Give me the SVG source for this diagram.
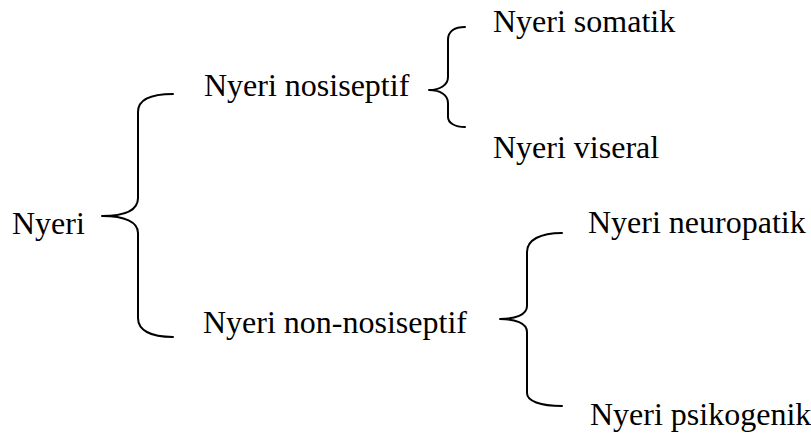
<svg xmlns="http://www.w3.org/2000/svg" width="811" height="443" viewBox="0 0 811 443">
  <style>
    text { font-family: 'Liberation Serif', 'Times New Roman', Times, 'DejaVu Serif', serif; font-size: 32px; fill: #000; }
    .brace { fill: none; stroke: #000; stroke-width: 2; stroke-linecap: round; stroke-linejoin: round; }
  </style>
  <rect width="811" height="443" fill="#fff"/>

  <!-- curly braces linking parent to children -->
  <g id="connectors">
    <path class="brace" d="M 173 94 C 150 94 138 100 138 112 V 198 C 138 210 125 216 102 216 C 125 216 138 222 138 233 V 318 C 138 330 150 337 173 337"/>
    <path class="brace" d="M 465 27 C 455 27 448 31 448 40 V 77 C 448 85 440 90 429 90 C 440 90 448 95 448 103 V 117 C 448 123 455 127 465 127"/>
    <path class="brace" d="M 562 233 C 540 233 527 240 527 252 V 306 C 527 315 515 319 500 319 C 515 319 527 323 527 332 V 393 C 527 401 540 406 562 406"/>
  </g>

  <g id="nyeri"><text font-family="Liberation Serif, serif" x="12" y="234">Nyeri</text></g>
  <g id="nosiseptif"><text font-family="Liberation Serif, serif" x="204" y="96">Nyeri nosiseptif</text></g>
  <g id="non-nosiseptif"><text font-family="Liberation Serif, serif" x="203" y="333">Nyeri non-nosiseptif</text></g>
  <g id="somatik"><text font-family="Liberation Serif, serif" x="493" y="32">Nyeri somatik</text></g>
  <g id="viseral"><text font-family="Liberation Serif, serif" x="493" y="158">Nyeri viseral</text></g>
  <g id="neuropatik"><text font-family="Liberation Serif, serif" x="588" y="233">Nyeri neuropatik</text></g>
  <g id="psikogenik"><text font-family="Liberation Serif, serif" x="590" y="425">Nyeri psikogenik</text></g>
</svg>
